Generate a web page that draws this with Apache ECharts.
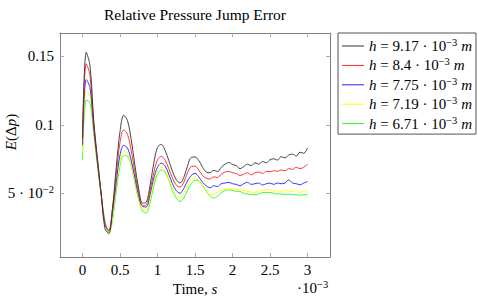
<!DOCTYPE html>
<html><head><meta charset="utf-8">
<script src="https://cdn.jsdelivr.net/npm/echarts@6/dist/echarts.min.js"></script>
<style>html,body{margin:0;padding:0;background:#fff}#c{width:478px;height:300px}</style>
</head><body><div id="c"></div>
<script>
// time in units of 1e-3 s
const time = [0,0.05,0.1,0.15,0.2,0.25,0.3,0.35,0.4,0.45,0.5,0.55,0.6,0.65,0.7,0.75,0.8,0.85,0.9,0.95,
  1.0,1.05,1.1,1.15,1.2,1.25,1.3,1.35,1.4,1.45,1.5,1.55,1.6,1.65,1.7,1.75,1.8,1.85,1.9,1.95,
  2.0,2.05,2.1,2.15,2.2,2.25,2.3,2.35,2.4,2.45,2.5,2.55,2.6,2.65,2.7,2.75,2.8,2.85,2.9,2.95,3.0];

const h917 = [0.090,0.153,0.143,0.103,0.075,0.049,0.024,0.021,0.039,0.069,0.095,0.107,0.103,0.089,0.070,0.053,0.0428,0.0435,0.0555,0.072,
  0.0835,0.0857,0.0815,0.074,0.066,0.060,0.0575,0.0615,0.070,0.0762,0.0765,0.074,0.069,0.0655,0.065,0.0668,0.0658,0.069,0.0712,0.0725,
  0.071,0.0702,0.068,0.0695,0.0712,0.0702,0.0722,0.0712,0.0732,0.0722,0.0745,0.0752,0.0742,0.0768,0.0758,0.078,0.0786,0.0772,0.080,0.0792,0.083];
const h84 = [0.088,0.1445,0.136,0.100,0.074,0.049,0.027,0.023,0.039,0.064,0.087,0.0962,0.093,0.081,0.065,0.050,0.041,0.0415,0.052,0.065,
  0.0745,0.077,0.0745,0.068,0.061,0.056,0.0545,0.058,0.065,0.0695,0.0698,0.067,0.063,0.061,0.0605,0.062,0.0615,0.064,0.0655,0.066,
  0.065,0.0645,0.063,0.064,0.065,0.0635,0.065,0.0655,0.0645,0.066,0.0658,0.0665,0.066,0.067,0.0665,0.068,0.0675,0.069,0.068,0.069,0.0713];
const h775 = [0.085,0.133,0.127,0.097,0.072,0.049,0.028,0.0225,0.036,0.058,0.078,0.085,0.083,0.074,0.061,0.048,0.0405,0.040,0.049,0.061,
  0.069,0.072,0.070,0.064,0.057,0.052,0.050,0.0535,0.059,0.063,0.0645,0.062,0.058,0.0555,0.054,0.0555,0.055,0.057,0.0575,0.058,
  0.057,0.0565,0.0555,0.057,0.058,0.0565,0.057,0.0575,0.056,0.057,0.0574,0.0565,0.0575,0.057,0.0575,0.0598,0.0575,0.057,0.0562,0.0575,0.0586];
const h719 = [0.080,0.125,0.121,0.095,0.071,0.048,0.029,0.0205,0.032,0.054,0.073,0.0805,0.079,0.071,0.058,0.046,0.038,0.0375,0.046,0.058,
  0.0665,0.069,0.067,0.061,0.054,0.049,0.047,0.050,0.056,0.0598,0.061,0.059,0.0555,0.052,0.049,0.0495,0.051,0.052,0.053,0.053,
  0.0535,0.053,0.0526,0.052,0.0515,0.051,0.0506,0.0515,0.052,0.0525,0.0526,0.0515,0.052,0.051,0.0525,0.0515,0.0513,0.052,0.0505,0.052,0.0506];
const h671 = [0.0745,0.118,0.116,0.093,0.070,0.048,0.030,0.020,0.030,0.051,0.070,0.0775,0.077,0.070,0.057,0.045,0.037,0.0356,0.043,0.055,
  0.064,0.067,0.0655,0.060,0.052,0.0465,0.044,0.0465,0.052,0.057,0.0595,0.059,0.056,0.0515,0.048,0.0465,0.048,0.0505,0.052,0.0526,
  0.052,0.0515,0.0513,0.050,0.0495,0.049,0.0489,0.0495,0.0505,0.0505,0.0506,0.050,0.0495,0.0495,0.049,0.0495,0.0489,0.049,0.0485,0.049,0.0489];

const hLabels = ['9.17','8.4','7.75','7.19','6.71'];
const seriesValues = [h917, h84, h775, h719, h671];
const colors = ['#333333','#ff2020','#2020ff','#ffff00','#20ff20'];
const xTicks = [0,0.5,1,1.5,2,2.5,3];
const yTicks = [0.05,0.1,0.15];
const yTickLabels = {0.05:'{t|5 · 10}{sup|−2}', 0.1:'{t|0.1}', 0.15:'{t|0.15}'};

const FONT = 'Liberation Serif';
const FS = 15;
const rich = {
  t:{fontFamily:FONT,fontSize:FS,color:'#000'},
  i:{fontFamily:FONT,fontStyle:'italic',fontSize:FS,color:'#000'},
  sup:{fontFamily:FONT,fontSize:10.5,color:'#000',verticalAlign:'top',padding:[0,0,7,0]}
};

const chart = echarts.init(document.getElementById('c'), null, {renderer:'svg'});
const names = hLabels.map(v => 'h = ' + v + ' · 10^-3 m');
const series = seriesValues.map((vals,k) => ({
  name: names[k], type:'line', symbol:'none', smooth:0.35,
  data: time.map((t,i)=>[t, vals[i]]),
  lineStyle:{color:colors[k], width:0.9}, itemStyle:{color:colors[k]},
  z: 10-k
}));

const frame = '#808080';
chart.setOption({
  animation:false,
  title:{text:'Relative Pressure Jump Error', left:195, top:6, padding:0, textAlign:'center',
    textStyle:{fontFamily:FONT,fontWeight:'normal',fontSize:15.5,color:'#000'}},
  grid:{left:60,right:148,top:33,bottom:43,containLabel:false,outerBoundsMode:'none'},
  legend:{orient:'vertical', left:338, top:33, padding:[4,4,3,4], itemGap:2.9, itemWidth:22, itemHeight:1,
    icon:'rect', borderColor:'#555', borderWidth:1, data:names,
    formatter: name => { const k = names.indexOf(name); return '{i|h}{t| = ' + hLabels[k] + ' · 10}{sup|−3}{t| }{i|m}'; },
    textStyle:{fontFamily:FONT,fontSize:FS,color:'#000', rich:rich}},
  xAxis:[{type:'value', min:-0.3, max:3.3, position:'bottom',
      axisLine:{show:true,onZero:false,lineStyle:{color:frame}},
      axisTick:{show:true,inside:true,length:4,customValues:xTicks,lineStyle:{color:'#aaa'}},
      axisLabel:{customValues:xTicks, formatter:v=>'{t|'+v+'}', margin:5, rich:rich},
      splitLine:{show:false},
      name:'{t|Time, }{i|s}', nameLocation:'middle', nameGap:23,
      nameTextStyle:{fontFamily:FONT,fontSize:FS,color:'#000',rich:rich}},
    {type:'value', min:-0.3, max:3.3, position:'top',
      axisLine:{show:true,onZero:false,lineStyle:{color:frame}},
      axisTick:{show:true,inside:true,length:4,customValues:xTicks,lineStyle:{color:'#aaa'}},
      axisLabel:{show:false}, splitLine:{show:false}}],
  yAxis:[{type:'value', min:0.0035, max:0.167, position:'left',
      axisLine:{show:true,onZero:false,lineStyle:{color:frame}},
      axisTick:{show:true,inside:true,length:4,customValues:yTicks,lineStyle:{color:'#aaa'}},
      axisLabel:{customValues:yTicks, formatter:v=>yTickLabels[v], margin:6, rich:rich},
      splitLine:{show:false}},
    {type:'value', min:0.0035, max:0.167, position:'right',
      axisLine:{show:true,onZero:false,lineStyle:{color:frame}},
      axisTick:{show:true,inside:true,length:4,customValues:yTicks,lineStyle:{color:'#aaa'}},
      axisLabel:{show:false}, splitLine:{show:false}}],
  graphic:[
    {type:'text', left:297, top:279, style:{text:'{t|·10}{sup|−3}', rich:rich}},
    {type:'text', x:11, y:132, rotation:Math.PI/2,
      style:{text:'{i|E}{t|(Δ}{i|p}{t|)}', rich:rich, align:'center', verticalAlign:'middle'}}
  ],
  series: series
});
</script></body></html>
